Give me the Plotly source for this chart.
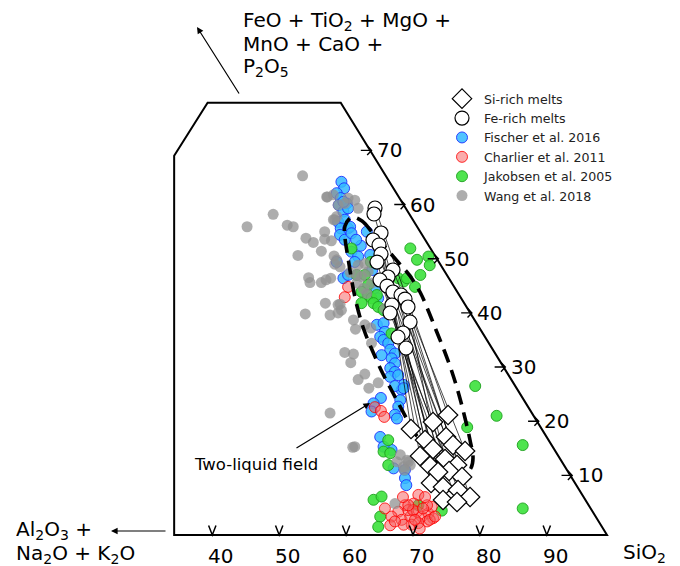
import plotly.graph_objects as go

# Ternary-projected coordinates: x = SiO2 + F/2 on the SiO2 scale, f = FeO+TiO2+MgO+MnO+CaO+P2O5 (wt%)
wang_x = [54.5,58.2,50.1,46.2,52.2,53.1,55.0,56.1,57.8,57.8,58.8,57.3,53.8,59.2,59.3,61.3,62.3,55.4,55.6,57.3,
          58.0,58.7,59.3,60.1,61.6,62.6,57.9,54.9,58.6,59.8,60.1,62.1,62.4,63.8,64.7,60.8,62.1,61.7,63.8,62.8,
          64.4,65.8,58.6,62.0,69.1,70.1,70.6,69.6,68.6,68.3,74.0,62.3,62.8,63.8,64.3,63.3,62.6,64.8,63.6,64.1,
          59.8,60.8,62.8,58.1,59.1,59.1,59.6,59.6,59.8,60.3,66.8,70.3,69.7,64.8]
wang_f = [66.3,62.4,59.2,56.9,57.2,56.9,54.8,54.0,56.0,54.6,54.3,52.4,51.6,51.5,58.2,62.2,61.8,47.5,46.6,46.6,
          47.1,47.4,50.0,49.5,48.5,48.0,42.8,40.8,40.6,41.0,42.6,39.7,38.0,38.8,38.2,33.7,33.4,31.8,29.7,28.7,
          27.1,28.1,22.5,16.2,14.8,13.8,12.9,12.6,13.5,5.8,11.7,16.3,49.8,50.1,48.6,47.7,46.5,46.5,45.5,44.6,
          60.9,61.2,60.3,62.4,62.8,58.2,58.8,50.8,42.5,41.5,41.8,13.5,12.0,35.4]

fischer_x = [60.3,60.7,59.6,60.2,59.9,61.1,60.6,61.3,59.8,60.8,60.2,61.3,60.1,60.8,61.6,61.8,64.1,61.8,62.8,62.3,
             59.6,60.6,61.3,64.6,64.9,65.3,65.8,66.8,65.6,66.6,66.8,66.1,66.6,67.3,67.6,68.3,66.3,67.8,68.3,67.6,
             68.3,67.6,68.8,69.6,69.3,68.3,66.2,65.1,69.1,68.8,68.3,68.6,64.8,66.1,67.8,68.1,69.8,69.8,70.0,66.6,
             69.6,60.6,63.2,62.5]
fischer_f = [65.2,64.0,63.1,62.2,60.9,61.2,59.7,60.3,57.8,58.2,56.6,56.6,55.4,54.5,56.9,55.7,56.0,52.3,51.4,50.4,
             50.4,47.4,48.0,51.7,48.9,45.6,43.7,41.5,38.8,39.1,37.5,36.6,36.0,35.4,34.2,33.5,33.2,32.6,31.7,30.8,
             30.1,29.2,29.5,27.7,26.8,27.5,25.3,24.3,24.9,23.7,22.2,21.5,22.8,18.1,15.7,12.3,12.0,10.5,9.2,16.3,
             27.1,61.5,53.4,54.5]

charlier_x = [71.8,71.1,69.8,68.8,67.8,66.8,67.6,69.3,70.6,70.3,71.6,72.3,73.3,73.8,73.1,74.0,73.1,71.8,70.8,69.6,
              72.0,71.0,72.5,68.3,70.3,73.5,74.3,60.8,65.3,66.2,66.7,61.3,69.5,72.8,71.3]
charlier_f = [7.4,5.8,5.5,4.3,3.4,4.9,1.8,2.8,3.4,4.6,4.3,3.4,4.0,5.2,5.5,3.1,2.5,2.2,1.9,1.9,
              1.2,4.6,4.9,2.5,5.5,2.8,3.4,43.9,23.6,22.9,21.8,45.8,7.0,7.0,2.8]

jakobsen_x = [61.8,62.6,63.8,64.3,63.3,64.3,64.8,65.6,65.1,64.7,68.8,69.6,70.1,70.6,71.6,73.3,73.5,72.1,71.3,63.3,
              65.8,66.6,67.8,80.3,83.5,79.1,87.4,87.4,67.3,66.6,67.6,67.3,65.1,66.3,66.1,65.8,75.3,71.8]
jakobsen_f = [52.9,48.0,48.0,46.2,44.9,44.3,43.7,44.3,42.8,50.4,47.4,46.8,47.4,52.9,50.8,51.4,49.8,48.0,45.8,42.8,
              42.1,41.5,37.2,27.5,22.0,19.9,16.6,4.9,17.5,15.4,15.1,12.9,6.5,7.1,3.4,1.5,4.5,5.5]

fe_rich_x = [65.32,65.17,66.22,65.02,65.92,66.22,65.62,68.01,67.27,66.07,67.12,68.01,69.21,69.81,67.86,70.25,
             67.57,70.56,69.51,68.76,69.96]
fe_rich_f = [60.36,59.26,55.75,54.46,53.53,51.87,50.39,48.92,47.63,47.07,45.96,44.86,44.30,43.56,42.46,42.09,
             40.98,39.32,37.29,36.55,34.52]
si_rich_x = [76.24,73.99,70.70,75.94,72.80,76.98,73.99,78.78,72.05,75.79,77.58,73.55,76.39,78.33,73.70,75.49,
             77.73,79.53,75.49,77.58,74.74]
si_rich_f = [22.15,20.86,19.57,18.09,17.54,16.61,15.87,15.51,14.58,14.03,12.92,12.74,11.81,10.71,9.60,8.86,
             8.31,7.01,6.46,6.09,11.63]

field_x = [61.88,63.38,64.87,66.82,68.76,70.55,72.05,73.24,74.44,75.64,76.83,77.88,78.77,79.52,79.97,79.67,78.77,
           77.43,76.08,74.59,72.80,71.00,69.51,68.01,66.52,65.02,63.68,62.63,61.88,61.29,60.84,60.84,61.88]
field_f = [58.70,57.97,55.94,53.17,50.40,47.81,44.86,41.54,37.84,34.15,30.09,25.84,21.60,17.54,14.21,12.37,11.26,
           10.89,11.45,13.29,16.06,19.38,22.71,26.21,29.72,33.78,37.84,42.27,46.70,51.14,54.83,57.04,58.70]

bottom_ticks = [40, 50, 60, 70, 80, 90]
right_ticks = [10, 20, 30, 40, 50, 60, 70]
TICK_OFFSET = 1.0

FONT = "DejaVu Sans"
W, H = 680, 566

fig = go.Figure()


def pts(x, f, name, fill, edge, rank, size=11, lw=1.0, symbol="circle"):
    fig.add_trace(go.Scatter(
        x=x, y=f, mode="markers", name=name, legendrank=rank,
        marker=dict(symbol=symbol, size=size, color=fill, line=dict(color=edge, width=lw)),
        hoverinfo="skip"))


pts(fischer_x, fischer_f, "Fischer et al. 2016", "rgba(50,185,255,0.85)", "rgba(30,50,255,0.9)", 3)
pts(jakobsen_x, jakobsen_f, "Jakobsen et al. 2005", "rgba(60,225,60,0.9)", "rgba(30,160,30,0.9)", 5)
pts(charlier_x, charlier_f, "Charlier et al. 2011", "rgba(245,90,90,0.5)", "rgba(255,0,0,0.8)", 4)
pts(wang_x, wang_f, "Wang et al. 2018", "rgba(145,145,145,0.75)", "rgba(145,145,145,0)", 6, lw=0)

fig.add_trace(go.Scatter(
    x=field_x, y=field_f, mode="lines", showlegend=False, hoverinfo="skip",
    line=dict(color="black", width=3.6, dash="14px,8px", shape="spline", smoothing=1.0)))

tie_x, tie_f = [], []
for a, b, c, d in zip(fe_rich_x, fe_rich_f, si_rich_x, si_rich_f):
    tie_x += [a, c, None]
    tie_f += [b, d, None]
fig.add_trace(go.Scatter(x=tie_x, y=tie_f, mode="lines", showlegend=False, hoverinfo="skip",
                         line=dict(color="black", width=0.7)))

pts(fe_rich_x, fe_rich_f, "Fe-rich melts", "white", "black", 2, size=14, lw=1.2)
pts(si_rich_x, si_rich_f, "Si-rich melts", "white", "black", 1, size=15, lw=1.2, symbol="diamond")

# frame (truncated ternary)
shapes = [dict(type="path", xref="x", yref="y", layer="below",
               path="M 35.3,0 L 100,0 L 60.2,79.8 L 40.3,79.8 L 35.3,70 Z",
               line=dict(color="black", width=2))]
annotations = []
for t in bottom_ticks:
    X = t + TICK_OFFSET
    shapes.append(dict(type="path", xref="x", yref="y",
                       path=f"M {X-0.55},1.75 L {X},0 L {X+0.55},1.75",
                       line=dict(color="black", width=1.5)))
    annotations.append(dict(x=t + 2.3, y=-3.8, xref="x", yref="y", text=str(t), showarrow=False,
                            xanchor="center", yanchor="middle", height=22,
                            font=dict(size=20, family=FONT, color="black")))
for t in right_ticks:
    F = t + TICK_OFFSET
    Xe = 100 - F / 2 + 0.3
    shapes.append(dict(type="path", xref="x", yref="y",
                       path=f"M {Xe-1.6},{F} L {Xe},{F} M {Xe-0.65},{F+0.85} L {Xe},{F} L {Xe-0.65},{F-0.85}",
                       line=dict(color="black", width=1.4)))
    annotations.append(dict(x=Xe + 0.5, y=F, xref="x", yref="y", text=str(t), showarrow=False,
                            xanchor="left", yanchor="middle", height=22,
                            font=dict(size=20, family=FONT, color="black")))


def P(px, py):
    return px / W, 1 - py / H


def label(text, px, py, size=20, anchor="left"):
    x, y = P(px, py)
    annotations.append(dict(x=x, y=y, xref="paper", yref="paper", text=text, showarrow=False,
                            xanchor=anchor, yanchor="middle", height=22,
                            font=dict(size=size, family=FONT, color="black")))


def arrow(tip, tail):
    x, y = P(*tip)
    annotations.append(dict(x=x, y=y, xref="paper", yref="paper", text="", showarrow=True,
                            ax=tail[0] - tip[0], ay=tail[1] - tip[1], arrowhead=2, arrowsize=1.1,
                            arrowwidth=1.2, arrowcolor="black"))


label("FeO + TiO<sub>2</sub> + MgO +", 241, 21)
label("MnO + CaO +", 241, 44)
label("P<sub>2</sub>O<sub>5</sub>", 241, 67)
label("Al<sub>2</sub>O<sub>3</sub> +", 14, 530)
label("Na<sub>2</sub>O + K<sub>2</sub>O", 14, 554)
label("SiO<sub>2</sub>", 621, 553)
label("Two-liquid field", 192, 464, size=16.5)
arrow((197, 27), (240, 95))
arrow((111, 531), (167, 531))
arrow((370, 403), (295, 449))

fig.update_layout(
    width=W, height=H, margin=dict(l=0, r=0, t=0, b=0), autosize=False,
    paper_bgcolor="white", plot_bgcolor="white",
    xaxis=dict(range=[9.268, 110.91], visible=False, fixedrange=True),
    yaxis=dict(range=[-5.723, 98.76], visible=False, fixedrange=True),
    shapes=shapes, annotations=annotations,
    showlegend=True,
    legend=dict(x=440 / W, y=1 - 84 / H, xanchor="left", yanchor="top", bgcolor="rgba(0,0,0,0)",
                font=dict(size=12.6, family=FONT, color="#222"), itemwidth=34, tracegroupgap=0),
    font=dict(family=FONT),
)

fig.write_html("out.html")
